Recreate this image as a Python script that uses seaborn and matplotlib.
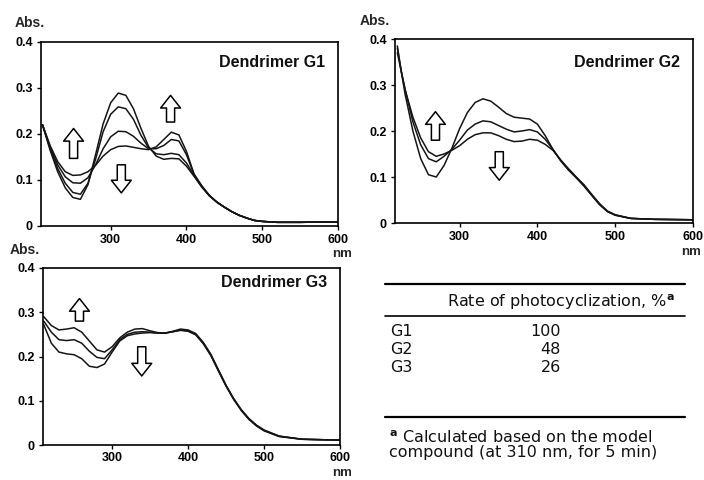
import numpy as np
import pandas as pd
import matplotlib
matplotlib.use('Agg')
import matplotlib.pyplot as plt
import seaborn as sns
from matplotlib.lines import Line2D

# ---- spectra (nm, absorbance) ----
wl_g1 = [210, 220, 230, 240, 250, 260, 270, 280, 290, 300, 310, 320, 330, 340, 350, 360,
         370, 380, 390, 400, 410, 420, 430, 440, 450, 460, 470, 480, 490, 500, 520, 550, 600]
g1_t0 = [.220, .165, .118, .083, .062, .058, .090, .155, .222, .268, .289, .284, .255, .212, .173, .152,
         .145, .147, .146, .130, .108, .085, .066, .052, .041, .031, .023, .017, .012, .010, .008, .008, .009]
g1_t1 = [.220, .168, .125, .093, .073, .069, .093, .145, .205, .243, .259, .255, .232, .197, .170, .157,
         .155, .158, .155, .137, .110, .086, .066, .052, .041, .031, .023, .017, .012, .010, .008, .008, .009]
g1_t2 = [.220, .172, .133, .107, .094, .093, .105, .133, .168, .194, .206, .205, .195, .180, .168, .168,
         .175, .188, .185, .155, .112, .087, .067, .052, .041, .031, .023, .017, .012, .010, .008, .008, .009]
g1_t3 = [.220, .175, .140, .118, .110, .111, .118, .132, .152, .166, .173, .174, .171, .168, .166, .172,
         .188, .204, .198, .162, .113, .088, .067, .052, .041, .031, .023, .017, .012, .010, .008, .008, .009]

wl_g2 = [220, 225, 230, 240, 250, 260, 270, 280, 290, 300, 310, 320, 330, 340, 350, 360,
         370, 380, 390, 400, 410, 420, 430, 440, 450, 460, 470, 480, 490, 500, 520, 550, 600]
g2_t0 = [.385, .330, .280, .200, .140, .105, .100, .125, .162, .205, .240, .262, .270, .265, .252, .238,
         .230, .228, .226, .215, .190, .160, .135, .115, .098, .080, .060, .040, .025, .017, .010, .008, .007]
g2_t1 = [.380, .330, .290, .220, .170, .140, .133, .145, .160, .180, .202, .215, .222, .220, .212, .204,
         .198, .200, .203, .198, .182, .160, .136, .116, .099, .081, .060, .040, .025, .017, .010, .008, .007]
g2_t2 = [.370, .330, .290, .230, .185, .155, .145, .150, .158, .168, .182, .192, .196, .196, .190, .182,
         .177, .178, .182, .180, .171, .158, .137, .118, .100, .083, .062, .042, .026, .018, .010, .008, .007]

wl_g3 = [210, 220, 230, 240, 250, 260, 270, 280, 290, 300, 310, 320, 330, 340, 350, 360,
         370, 380, 390, 400, 410, 420, 430, 440, 450, 460, 470, 480, 490, 500, 520, 550, 600]
g3_t0 = [.272, .230, .210, .206, .204, .195, .178, .175, .183, .210, .235, .247, .251, .253, .254, .253,
         .253, .256, .259, .257, .249, .229, .202, .167, .133, .103, .078, .058, .043, .032, .019, .013, .011]
g3_t1 = [.280, .255, .238, .236, .238, .230, .212, .198, .195, .215, .238, .250, .255, .256, .255, .253,
         .253, .256, .260, .258, .250, .230, .203, .168, .134, .104, .079, .059, .044, .033, .020, .013, .011]
g3_t2 = [.290, .270, .260, .262, .265, .255, .235, .215, .210, .222, .242, .255, .262, .263, .258, .254,
         .253, .257, .262, .260, .252, .232, .205, .170, .135, .105, .080, .060, .045, .034, .020, .013, .011]

# table values
gens = ['G1', 'G2', 'G3']
rates = [100, 48, 26]

panel_names = ['Dendrimer G1', 'Dendrimer G2', 'Dendrimer G3']
x_ticks = [300, 400, 500, 600]
y_ticks = [0, 0.1, 0.2, 0.3, 0.4]
y_ticklabels = ['0', '0.1', '0.2', '0.3', '0.4']


def to_long(wl, curves):
    frames = []
    for i, c in enumerate(curves):
        frames.append(pd.DataFrame({'nm': wl, 'abs': c, 'curve': 't%d' % i}))
    return pd.concat(frames, ignore_index=True)


sns.set_theme(style='white')
plt.rcParams['font.family'] = ['Liberation Sans', 'DejaVu Sans']
plt.rcParams['mathtext.fontset'] = 'dejavusans'

W, H = 704, 480
fig = plt.figure(figsize=(W / 100, H / 100), dpi=100)


def rect(l, t, r, b):
    return [l / W, 1 - b / H, (r - l) / W, (b - t) / H]


def fxy(x, y):
    return x / W, 1 - y / H


panels = [
    dict(rect=rect(41, 42, 338, 226), wl=wl_g1, curves=[g1_t0, g1_t1, g1_t2, g1_t3], xlim=(208, 600),
         title_y=0.89, abs_xy=(15, 23), nm_xy=(342, 254), pad=3,
         arrows=[(251, 0.147, 0.212), (379, 0.226, 0.284), (314, 0.133, 0.072)]),
    dict(rect=rect(395, 39, 693, 223), wl=wl_g2, curves=[g2_t0, g2_t1, g2_t2], xlim=(217, 600),
         title_y=0.87, abs_xy=(360, 21), nm_xy=(691, 252), pad=3,
         arrows=[(269, 0.180, 0.242), (351, 0.155, 0.093)]),
    dict(rect=rect(43, 268, 340, 445), wl=wl_g3, curves=[g3_t0, g3_t1, g3_t2], xlim=(209, 600),
         title_y=0.92, abs_xy=(10, 250), nm_xy=(342, 473), pad=2,
         arrows=[(257, 0.280, 0.331), (339, 0.222, 0.156)]),
]

for p, name in zip(panels, panel_names):
    ax = fig.add_axes(p['rect'])
    df = to_long(p['wl'], p['curves'])
    sns.lineplot(data=df, x='nm', y='abs', hue='curve', palette=['#151515'] * len(p['curves']),
                 estimator=None, sort=False, legend=False, lw=1.1, ax=ax)
    ax.set_xlim(*p['xlim'])
    ax.set_ylim(0, 0.4)
    ax.set_xticks(x_ticks)
    ax.set_yticks(y_ticks)
    ax.set_yticklabels(y_ticklabels)
    ax.set_xlabel('')
    ax.set_ylabel('')
    ax.tick_params(direction='out', length=3, width=1, labelsize=9, pad=3,
                   bottom=True, left=True, colors='black')
    ax.tick_params(axis='x', pad=p['pad'])
    for lab in ax.get_xticklabels() + ax.get_yticklabels():
        lab.set_fontweight('bold')
    for s in ax.spines.values():
        s.set_color('black')
        s.set_linewidth(1.2)
    ax.text(0.955, p['title_y'], name, transform=ax.transAxes, ha='right', va='center',
            fontsize=11.5, fontweight='bold', color='#111')
    for x, y0, y1 in p['arrows']:
        ax.annotate('', xy=(x, y1), xytext=(x, y0),
                    arrowprops=dict(arrowstyle='simple,head_length=0.7,head_width=1.1,tail_width=0.45',
                                    fc='white', ec='black', lw=1.1, mutation_scale=13,
                                    shrinkA=0, shrinkB=0))
    fig.text(*fxy(*p['abs_xy']), 'Abs.', ha='left', va='center', fontsize=10, fontweight='bold')
    fig.text(*fxy(*p['nm_xy']), 'nm', ha='center', va='center', fontsize=9.5, fontweight='bold')

# ---- table ----
for y, lw in [(284, 1.6), (316, 1.2), (417, 1.6)]:
    fig.add_artist(Line2D([385 / W, 685 / W], [1 - y / H, 1 - y / H], color='black', lw=lw))

tfont = dict(fontsize=11.5, family='DejaVu Sans', color='#111')
fig.text(*fxy(447, 302), r'Rate of photocyclization, %$^{\mathbf{a}}$', ha='left', va='center', **tfont)
for i, (g, r) in enumerate(zip(gens, rates)):
    y = 332 + 18 * i
    fig.text(*fxy(390, y), g, ha='left', va='center', **tfont)
    fig.text(*fxy(561, y), str(r), ha='right', va='center', **tfont)

fig.text(*fxy(389, 438), r'$^{\mathbf{a}}$ Calculated based on the model', ha='left', va='center', **tfont)
fig.text(*fxy(389, 453), 'compound (at 310 nm, for 5 min)', ha='left', va='center', **tfont)

fig.savefig('out.png', dpi=100, facecolor='white')
